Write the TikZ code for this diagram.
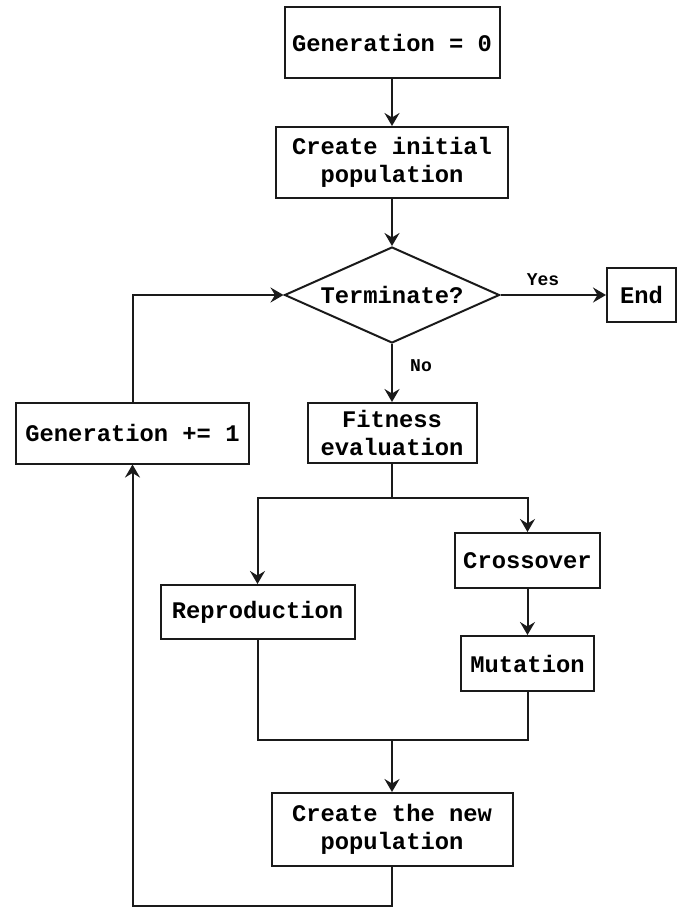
\documentclass[tikz,border=0pt]{standalone}
\usepackage{fontspec}
\usetikzlibrary{shapes.geometric,arrows.meta}
\newfontfamily\flowfont{Liberation Mono}
\definecolor{ink}{HTML}{1A1A1A}
\begin{document}
\begin{tikzpicture}[x=1pt,y=-1pt,
  every node/.style={font=\flowfont\bfseries\fontsize{23.8}{28.5}\selectfont, text=black},
  box/.style={draw=ink, line width=2pt, fill=white, inner sep=0pt, align=center},
  decision/.style={draw=ink, line width=2pt, fill=white, diamond, inner sep=0pt,
    aspect=2.24, minimum width=215pt, minimum height=96pt},
  link/.style={draw=ink, line width=2pt, line join=miter},
  arrow/.style={link, -{Stealth[length=13pt,width=15pt,inset=4.5pt]}},
  tag/.style={font=\flowfont\bfseries\fontsize{18}{20}\selectfont}
]
\useasboundingbox (0,0) rectangle (677,908);

% process steps
\node[box, minimum width=215pt, minimum height=71pt] (g0) at (392,42.5) {Generation = 0};
\node[box, minimum width=232pt, minimum height=71pt] (init) at (392,162.5) {Create initial\\population};
\node[decision] (term) at (392,295) {Terminate?};
\node[box, minimum width=69pt, minimum height=54pt] (end) at (641.5,295) {End};
\node[box, minimum width=233pt, minimum height=61pt] (gen1) at (132.5,433) {Generation += 1};
\node[box, minimum width=169pt, minimum height=60pt] (fit) at (392,433) {Fitness\\evaluation};
\node[box, minimum width=145pt, minimum height=55pt] (cross) at (527.5,560.5) {Crossover};
\node[box, minimum width=194pt, minimum height=54pt] (repr) at (257.5,612) {Reproduction};
\node[box, minimum width=133pt, minimum height=55pt] (mut) at (527.5,663.5) {Mutation};
\node[box, minimum width=241pt, minimum height=73pt] (new) at (392,829.5) {Create the new\\population};

% branch and join points
\coordinate (split) at (392,498);
\coordinate (merge) at (392,740);
\coordinate (bottom) at (392,906);

% connectors
\draw[arrow] (g0.south) -- (init.north);
\draw[arrow] (init.south) -- (term.north);
\draw[arrow] (term.east) -- (end.west);
\draw[arrow] (term.south) -- (fit.north);
\draw[link] (fit.south) -- (split);
\draw[arrow] (split) -| (repr.north);
\draw[arrow] (split) -| (cross.north);
\draw[arrow] (cross.south) -- (mut.north);
\draw[link] (repr.south) |- (merge) -| (mut.south);
\draw[arrow] (merge) -- (new.north);
\draw[arrow] (new.south) -- (bottom) -| (gen1.south);
\draw[arrow] (gen1.north) |- (term.west);

% branch labels
\node[tag] (yes) at (543,280) {Yes};
\node[tag] (no) at (421,366) {No};
\end{tikzpicture}
\end{document}
